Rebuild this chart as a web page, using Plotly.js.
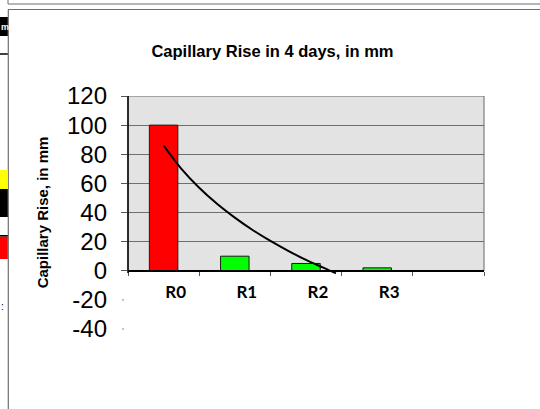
<!DOCTYPE html>
<html><head><meta charset="utf-8">
<script src="https://cdn.plot.ly/plotly-3.0.1.min.js"></script>
<style>html,body{margin:0;padding:0;background:#fff}#chart{width:540px;height:409px}</style>
</head><body><div id="chart"></div>
<script>
// ---- data ----
const categories = ['R0', 'R1', 'R2', 'R3'];
const capillaryRise = [100, 10, 5, 2];
const barColors = ['#FF0000', '#00FF00', '#00FF00', '#00FF00'];
// logarithmic trendline, values
const trendX = [0, 0.25, 0.5, 0.75, 1, 1.25, 1.5, 1.75, 2, 2.25, 2.42];
const trendY = [86, 70, 57, 46, 36.5, 28, 20.5, 13.7, 7.4, 2, -1.8];
const yTickVals = [-40, -20, 0, 20, 40, 60, 80, 100, 120];
const yTickText = ['-40', '-20', '0', '20', '40', '60', '80', '100', '120'];
const gridVals = [0, 20, 40, 60, 80, 100, 120];
const boundaryVals = [-0.5, 0.5, 1.5, 2.5, 3.5, 4.5];

// ---- layout helpers ----
const W = 540, H = 409, L = 128, R = 56, T = 96, B = 80;
const PW = W - L - R, PH = H - T - B;
const px = v => (v - L) / PW;
const py = v => (H - B - v) / PH;
const yMin = -40, yMax = 120;
const yp = v => (v - yMin) / (yMax - yMin);
const frame = '#6e6e6e';

const xTickPositions = categories.map((c, i) => i);

const traces = [
  {
    type: 'bar', x: xTickPositions, y: capillaryRise,
    marker: {color: barColors, line: {color: '#1a1a1a', width: 1}},
    width: 0.4, hoverinfo: 'x+y', xaxis: 'x', yaxis: 'y'
  },
  {
    type: 'scatter', mode: 'lines', x: trendX, y: trendY,
    line: {color: '#000000', width: 2, shape: 'spline'},
    hoverinfo: 'skip', xaxis: 'x2', yaxis: 'y2'
  }
];

const shapes = [
  // plot area background (only 0..120)
  {type: 'rect', xref: 'paper', yref: 'y', x0: 0, x1: 1, y0: 0, y1: 120,
   fillcolor: '#E3E3E3', line: {color: '#666666', width: 1}, layer: 'below'},
  // left axis line
  {type: 'line', xref: 'paper', yref: 'y', x0: 0, x1: 0, y0: -1.5, y1: 120,
   line: {color: '#000000', width: 1.5}},
  // tiny tick dashes at -20, -40
  {type: 'line', xref: 'paper', yref: 'paper', x0: px(122), x1: px(124), y0: yp(-20), y1: yp(-20),
   line: {color: '#888888', width: 1}},
  {type: 'line', xref: 'paper', yref: 'paper', x0: px(122), x1: px(124), y0: yp(-40), y1: yp(-40),
   line: {color: '#888888', width: 1}},
  // outer frames
  {type: 'line', xref: 'paper', yref: 'paper', x0: px(8), x1: px(540), y0: py(4), y1: py(4), line: {color: frame, width: 1}},
  {type: 'line', xref: 'paper', yref: 'paper', x0: px(8), x1: px(8), y0: py(0), y1: py(4), line: {color: frame, width: 1}},
  {type: 'line', xref: 'paper', yref: 'paper', x0: px(8), x1: px(540), y0: py(9.5), y1: py(9.5), line: {color: frame, width: 1}},
  {type: 'line', xref: 'paper', yref: 'paper', x0: px(8.3), x1: px(8.3), y0: py(9.5), y1: py(409), line: {color: frame, width: 1.2}},
  // spreadsheet remnants on the left edge
  {type: 'rect', xref: 'paper', yref: 'paper', x0: px(0), x1: px(7.8), y0: py(36), y1: py(17), fillcolor: '#000000', line: {width: 0}},
  {type: 'line', xref: 'paper', yref: 'paper', x0: px(0), x1: px(7.8), y0: py(54), y1: py(54), line: {color: '#000000', width: 1.5}},
  {type: 'rect', xref: 'paper', yref: 'paper', x0: px(0), x1: px(7.8), y0: py(189), y1: py(170), fillcolor: '#FFFF00', line: {width: 0}},
  {type: 'rect', xref: 'paper', yref: 'paper', x0: px(0), x1: px(7.8), y0: py(217), y1: py(189), fillcolor: '#000000', line: {width: 0}},
  {type: 'rect', xref: 'paper', yref: 'paper', x0: px(0), x1: px(7.8), y0: py(236.7), y1: py(235), fillcolor: '#000000', line: {width: 0}},
  {type: 'rect', xref: 'paper', yref: 'paper', x0: px(0), x1: px(7.8), y0: py(259), y1: py(236.7), fillcolor: '#FF0000', line: {width: 0}}
];

const annotations = [
  {text: 'm', xref: 'paper', yref: 'paper', x: px(0), y: py(26.5), xanchor: 'left', yanchor: 'middle',
   showarrow: false, borderpad: 0, font: {family: 'Liberation Sans, Arial, sans-serif', size: 9, color: '#ffffff', weight: 'bold'}},
  {text: ':', xref: 'paper', yref: 'paper', x: px(0), y: py(306), xanchor: 'left', yanchor: 'middle',
   showarrow: false, borderpad: 0, font: {family: 'Liberation Sans, Arial, sans-serif', size: 10, color: '#000000'}}
];

const layout = {
  width: W, height: H,
  margin: {l: L, r: R, t: T, b: B, pad: 0},
  paper_bgcolor: '#ffffff', plot_bgcolor: 'rgba(0,0,0,0)',
  showlegend: false,
  title: {
    text: 'Capillary Rise in 4 days, in mm',
    font: {family: 'Liberation Sans, Arial, sans-serif', size: 16.5, color: '#000000', weight: 'bold'},
    x: 272.5 / W, xanchor: 'center', y: 1 - 51 / H, yanchor: 'middle'
  },
  xaxis: {
    range: [-0.5, 4.5], tickvals: xTickPositions, ticktext: categories,
    anchor: 'free', position: yp(0),
    showline: true, linecolor: '#000000', linewidth: 1.5,
    showgrid: false, zeroline: false, ticks: '',
    ticklabelstandoff: 6, ticklabelshift: 12,
    tickfont: {family: 'Lato, Carlito, sans-serif', size: 17, color: '#000000', weight: 'bold'},
    fixedrange: true
  },
  xaxis2: {
    overlaying: 'x', range: [-0.5, 4.5], tickvals: boundaryVals,
    anchor: 'free', position: yp(0),
    ticks: 'outside', ticklen: 4, tickcolor: '#555555', tickwidth: 1,
    showticklabels: false, showgrid: false, zeroline: false, showline: false,
    fixedrange: true
  },
  yaxis: {
    range: [yMin, yMax], tickvals: yTickVals, ticktext: yTickText,
    ticks: '', showgrid: false, zeroline: false, showline: false,
    ticklabelstandoff: 20,
    tickfont: {family: 'Liberation Sans, Arial, sans-serif', size: 24, color: '#000000'},
    title: {
      text: 'Capillary Rise, in mm', standoff: 14,
      font: {family: 'Liberation Sans, Arial, sans-serif', size: 15, color: '#000000', weight: 'bold'}
    },
    fixedrange: true
  },
  yaxis2: {
    overlaying: 'y', side: 'left', range: [yMin, yMax], tickvals: gridVals,
    ticks: 'outside', ticklen: 6, tickcolor: '#555555', tickwidth: 1,
    showticklabels: false, showgrid: true, gridcolor: '#6f6f6f', gridwidth: 1,
    zeroline: false, showline: false, fixedrange: true
  },
  shapes: shapes,
  annotations: annotations,
  bargap: 0.6
};

Plotly.newPlot('chart', traces, layout, {displayModeBar: false, staticPlot: false});
</script>
</body></html>
